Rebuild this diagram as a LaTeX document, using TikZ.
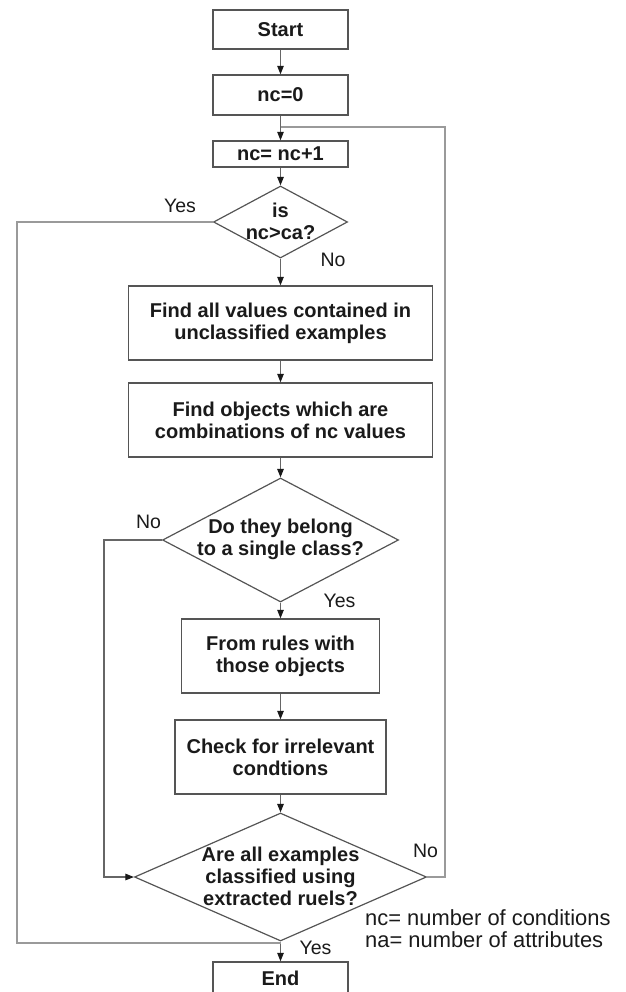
\documentclass[tikz,border=0pt]{standalone}
\usepackage{fontspec}
\setmainfont{Liberation Sans}
\usetikzlibrary{shapes.geometric,arrows.meta}
\definecolor{edge}{HTML}{555555}
\definecolor{conn}{HTML}{666666}
\definecolor{loopc}{HTML}{9A9A9A}
\definecolor{ink}{HTML}{1A1A1A}
\begin{document}
\begin{tikzpicture}[x=1pt,y=-1pt,
  box/.style={draw=edge, line width=1.3pt, rectangle, inner sep=0pt, align=center,
    font=\bfseries\fontsize{20}{22}\selectfont, text=ink},
  dia/.style={draw=edge, line width=1.2pt, diamond, inner sep=0pt},
  dtext/.style={inner sep=0pt, align=center, font=\bfseries\fontsize{20}{22}\selectfont, text=ink},
  lbl/.style={inner sep=0pt, font=\fontsize{19.5}{22}\selectfont, text=ink},
  note/.style={inner sep=0pt, font=\fontsize{21.9}{22}\selectfont, text=ink, anchor=base west},
  arr/.style={draw=conn, line width=1.1pt, -{Triangle[length=8.5pt,width=6.5pt,color=black!90]}},
  back/.style={draw=loopc, line width=1.4pt}]
\useasboundingbox (0,0) rectangle (625,992);
\clip (0,0) rectangle (625,992);

% boxes
\node[box, minimum width=135pt, minimum height=39pt] (start) at (280.5,29.5) {Start};
\node[box, minimum width=135pt, minimum height=40pt] (nc0) at (280.5,95) {nc=0};
\node[box, minimum width=135pt, minimum height=26pt] (inc) at (280.5,154) {nc= nc+1};
\node[dia, minimum width=134pt, minimum height=72pt] (d1) at (280.5,222) {};
\node[dtext] (d1t) at (280.5,221) {is\\nc>ca?};
\node[box, minimum width=304pt, minimum height=74pt] (fa) at (280.5,323) {Find all values contained in\\unclassified examples};
\node[box, minimum width=304pt, minimum height=74pt] (fo) at (280.5,420) {Find objects which are\\combinations of nc values};
\node[dia, minimum width=236pt, minimum height=124pt] (d2) at (280.5,540) {};
\node[dtext] (d2t) at (280.5,539) {Do they belong\\to a single class?};
\node[box, minimum width=198pt, minimum height=74pt] (fr) at (280.5,656) {From rules with\\those objects};
\node[box, minimum width=211pt, minimum height=74pt] (ck) at (280.5,757) {Check for irrelevant\\condtions};
\node[dia, minimum width=292pt, minimum height=128pt] (d3) at (280.5,877) {};
\node[dtext] (d3t) at (280.5,876) {Are all examples\\classified using\\extracted ruels?};
\node[box, minimum width=135pt, minimum height=32pt] (end) at (280.5,978) {End};

% main arrows
\draw[arr] (start.south) -- (nc0.north);
\draw[arr] (nc0.south) -- (inc.north);
\draw[arr] (inc.south) -- (d1.north);
\draw[arr] (d1.south) -- (fa.north);
\draw[arr] (fa.south) -- (fo.north);
\draw[arr] (fo.south) -- (d2.north);
\draw[arr] (d2.south) -- (fr.north);
\draw[arr] (fr.south) -- (ck.north);
\draw[arr] (ck.south) -- (d3.north);
\draw[arr] (d3.south) -- (end.north);

% loop back (No from d3)
\coordinate (lpR) at (445,877);
\coordinate (lpT) at (445,127);
\coordinate (lpJ) at (280.5,127);
\draw[back] (d3.east) -- (lpR) -- (lpT) -- (lpJ);

% Yes from d1 to End
\coordinate (ybL) at (17,222);
\coordinate (ybB) at (17,943);
\coordinate (ybJ) at (280.5,943);
\draw[back] (d1.west) -- (ybL) -- (ybB) -- (ybJ);

% No from d2 to d3
\coordinate (noL) at (104,540);
\coordinate (noB) at (104,877);
\draw[arr] (d2.west) -- (noL) -- (noB) -- (d3.west);

% labels
\node[lbl] (yes1) at (180,205.5) {Yes};
\node[lbl] (no1) at (333,260) {No};
\node[lbl] (no2) at (148.5,521.5) {No};
\node[lbl] (yes2) at (339.5,601) {Yes};
\node[lbl] (no3) at (425.5,851) {No};
\node[lbl] (yes3) at (315.5,947.5) {Yes};

% notes
\node[note] (note1) at (365,925) {nc= number of conditions};
\node[note] (note2) at (365,947) {na= number of attributes};
\end{tikzpicture}
\end{document}
